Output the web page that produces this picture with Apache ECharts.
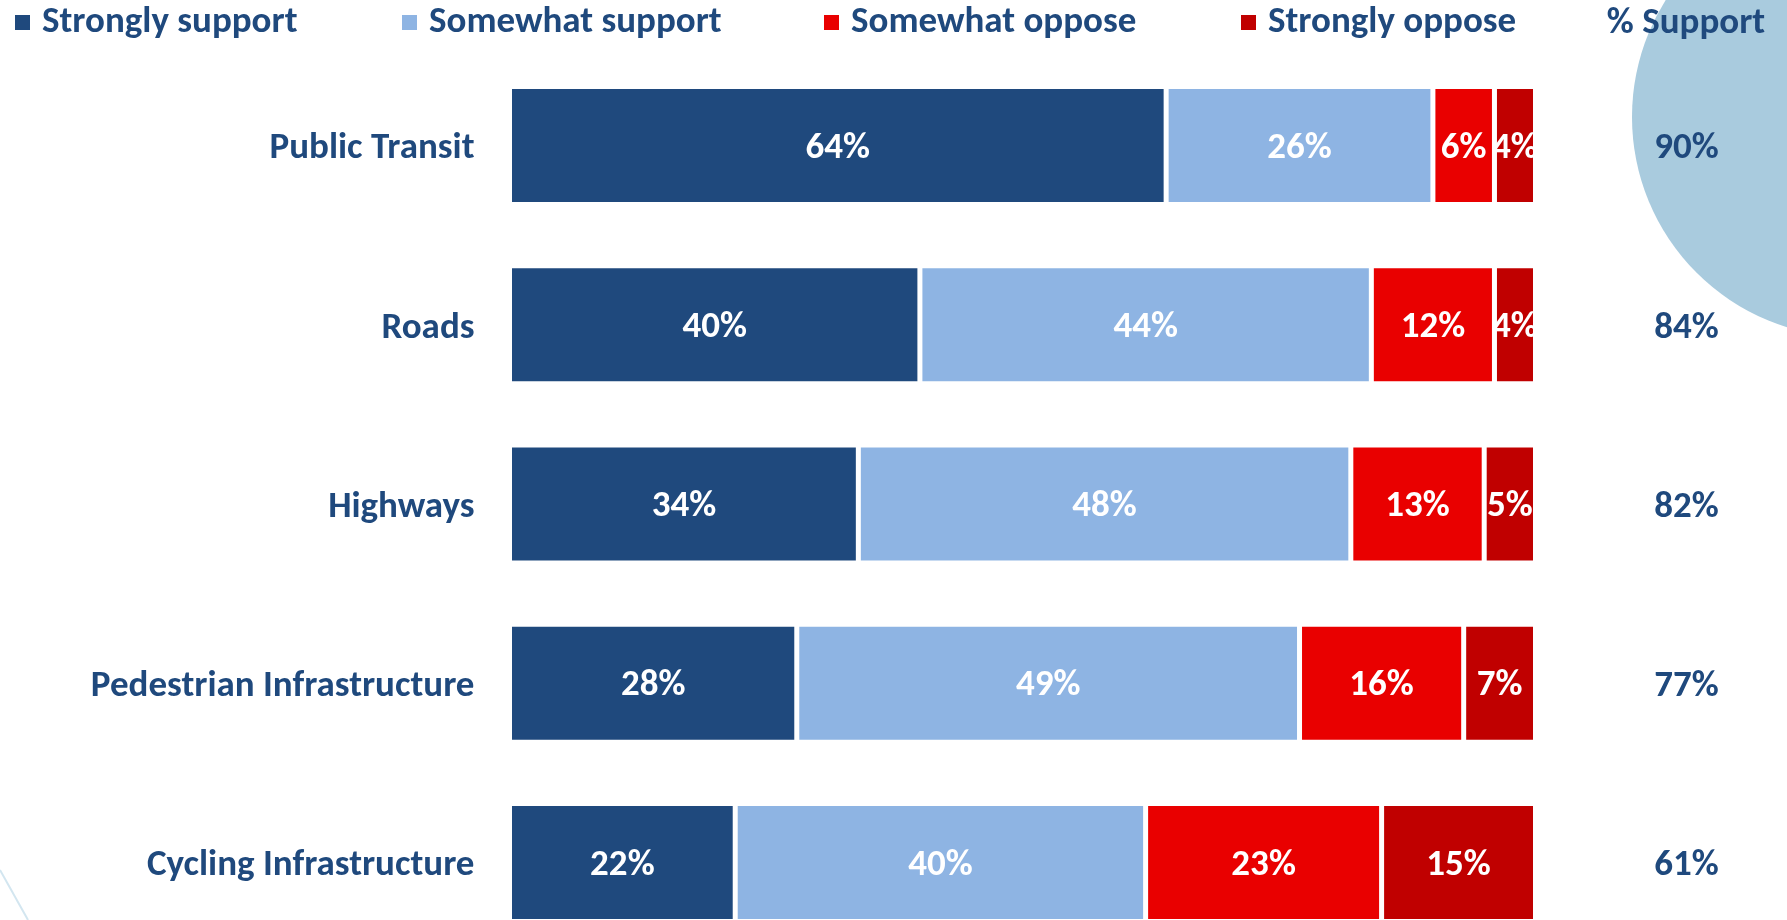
<!DOCTYPE html>
<html>
<head>
<meta charset="utf-8">
<script src="https://cdn.jsdelivr.net/npm/echarts@6/dist/echarts.min.js"></script>
<style>
  html, body { margin: 0; padding: 0; background: #ffffff; }
  #chart { width: 1787px; height: 920px; }
</style>
</head>
<body>
<div id="chart"></div>
<script>
// Survey: support for investment by infrastructure type
const categories = ['Public Transit', 'Roads', 'Highways', 'Pedestrian Infrastructure', 'Cycling Infrastructure'];
const stronglySupport = [64, 40, 34, 28, 22];
const somewhatSupport = [26, 44, 48, 49, 40];
const somewhatOppose = [6, 12, 13, 16, 23];
const stronglyOppose = [4, 4, 5, 7, 15];
const supportTotal = [90, 84, 82, 77, 61];
const seriesNames = ['Strongly support', 'Somewhat support', 'Somewhat oppose', 'Strongly oppose'];

const FONT = 'Calibri, Carlito, "Open Sans", sans-serif';
const NAVY = '#1F497D';
const colors = ['#1F497D', '#8EB4E3', '#E90000', '#C00000'];
const FS = 37;

const chart = echarts.init(document.getElementById('chart'));

function barSeries(name, values, color) {
  return {
    name: name,
    type: 'bar',
    stack: 'total',
    barWidth: 118,
    data: values,
    itemStyle: { color: color, borderColor: '#ffffff', borderWidth: 2.5 },
    label: {
      show: true,
      position: 'inside',
      offset: [0, 3],
      formatter: p => p.value + '%',
      color: '#ffffff',
      fontFamily: FONT,
      fontWeight: 'bold',
      fontSize: FS
    }
  };
}

const legendLefts = [10, 397, 819, 1236];
const legends = seriesNames.map((n, i) => ({
  data: [n],
  left: legendLefts[i],
  top: -1,
  icon: 'rect',
  itemWidth: 15,
  itemHeight: 15,
  itemStyle: { borderWidth: 0 },
  selectedMode: false,
  textStyle: {
    color: NAVY,
    fontFamily: FONT,
    fontWeight: 'bold',
    fontSize: FS,
    padding: [0, 0, 0, 7]
  }
}));

// axis label text, nudged down to sit on the bar's visual centre
const labelRich = {
  t: {
    padding: [7, 0, 0, 0],
    color: NAVY,
    fontFamily: FONT,
    fontWeight: 'bold',
    fontSize: FS
  }
};

chart.setOption({
  color: colors,
  animation: false,
  legend: legends,
  grid: {
    left: 509.5, width: 1026, top: 56, height: 896,
    containLabel: false, outerBoundsMode: 'none'
  },
  xAxis: { type: 'value', min: 0, max: 100, show: false },
  yAxis: [
    {
      type: 'category',
      data: categories,
      inverse: true,
      axisLine: { show: false },
      axisTick: { show: false },
      axisLabel: {
        margin: 35,
        formatter: v => '{t|' + v + '}',
        rich: labelRich
      }
    },
    {
      type: 'category',
      data: supportTotal.map(v => v + '%'),
      inverse: true,
      position: 'right',
      axisLine: { show: false },
      axisTick: { show: false },
      axisLabel: {
        margin: 151,
        align: 'center',
        formatter: v => '{t|' + v + '}',
        rich: labelRich
      }
    }
  ],
  graphic: [
    {
      type: 'circle',
      z: -10,
      shape: { cx: 1852, cy: 117, r: 220 },
      style: { fill: '#A9CBDE' }
    },
    {
      type: 'line',
      z: -10,
      shape: { x1: 0, y1: 870, x2: 28, y2: 920 },
      style: { stroke: '#D3E6F0', lineWidth: 2 }
    },
    {
      type: 'text',
      z: 10,
      style: {
        text: '% Support',
        x: 1686,
        y: 24,
        textAlign: 'center',
        textVerticalAlign: 'middle',
        fill: NAVY,
        fontFamily: FONT,
        fontWeight: 'bold',
        fontSize: FS
      }
    }
  ],
  series: [
    barSeries(seriesNames[0], stronglySupport, colors[0]),
    barSeries(seriesNames[1], somewhatSupport, colors[1]),
    barSeries(seriesNames[2], somewhatOppose, colors[2]),
    barSeries(seriesNames[3], stronglyOppose, colors[3])
  ]
});
</script>
</body>
</html>
